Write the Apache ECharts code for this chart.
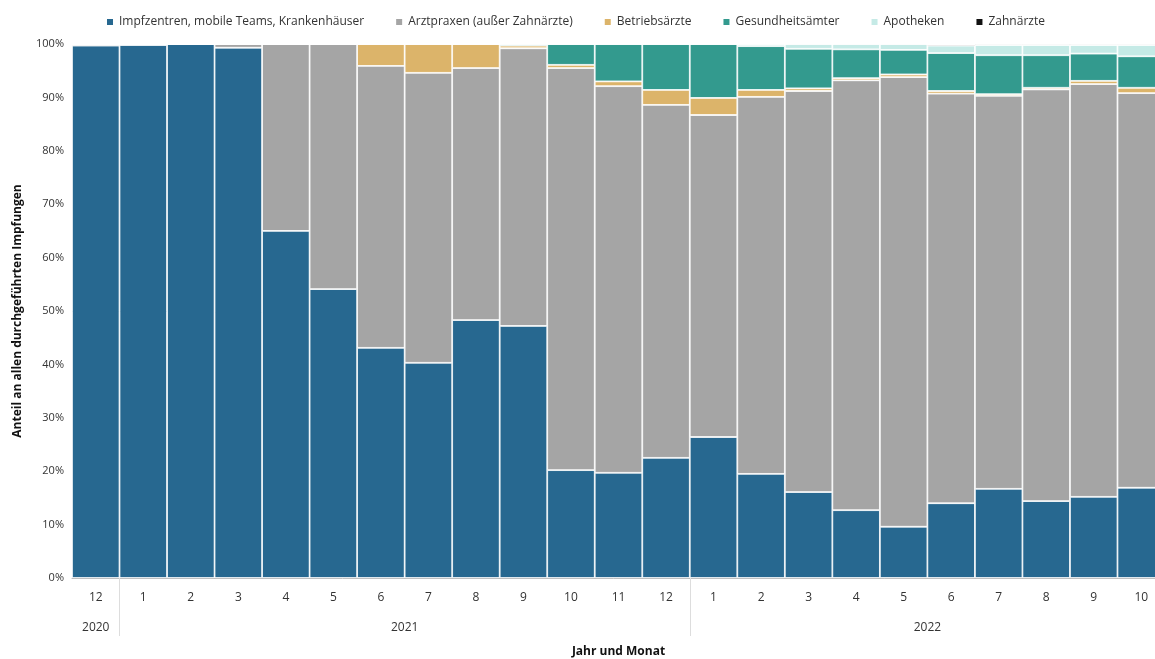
<!DOCTYPE html><html><head><meta charset="utf-8"><script src="https://cdn.jsdelivr.net/npm/echarts@6/dist/echarts.min.js"></script></head><body style="margin:0"><div id="c" style="width:1155px;height:659px"></div><script>
const months=['12','1','2','3','4','5','6','7','8','9','10','11','12','1','2','3','4','5','6','7','8','9','10'];
const impf=[99.7,99.8,100,99.3,65,54.1,43.1,40.3,48.3,47.2,20.2,19.7,22.5,26.4,19.5,16.1,12.7,9.6,14.0,16.7,14.4,15.2,16.9];
const arzt=[0.3,0.2,0,0.7,35,45.9,52.8,54.3,47.2,52,75.3,72.4,66.1,60.3,70.6,75.1,80.5,84.2,76.7,73.6,77.1,77.3,73.9];
const betrieb=[0,0,0,0,0,0,4.1,5.4,4.5,0.5,0.6,0.9,2.8,3.2,1.3,0.5,0.4,0.5,0.5,0.3,0.3,0.6,1.0];
const gesund=[0,0,0,0,0,0,0,0,0,0.3,3.9,7.0,8.6,10.1,8.2,7.4,5.4,4.6,7.1,7.3,6.1,5.1,5.9];
const apo=[0,0,0,0,0,0,0,0,0,0,0,0,0,0,0.4,0.9,1.0,1.1,1.4,1.9,1.9,1.6,2.1];
const zahn=[0,0,0,0,0,0,0,0,0,0,0,0,0,0,0,0,0,0,0.2,0.2,0.2,0.2,0.2];
const names=['Impfzentren, mobile Teams, Krankenhäuser','Arztpraxen (außer Zahnärzte)','Betriebsärzte','Gesundheitsämter','Apotheken','Zahnärzte'];
const colors=['#276890','#a5a5a5','#dcb46a','#339a8e','#c5eae6','#111111'];
const data=[impf,arzt,betrieb,gesund,apo,zahn];
const f='"Open Sans", sans-serif';
const ch=echarts.init(document.getElementById('c'));
ch.setOption({
 textStyle:{fontFamily:f},
 legend:{top:11,left:100,itemWidth:8,itemHeight:8,itemGap:30,icon:'rect',textStyle:{fontSize:12,color:'#333',fontFamily:f}},
 grid:{left:72,right:-10,top:44,bottom:81,outerBoundsMode:'none',containLabel:false},
 xAxis:[{type:'category',data:months,axisLine:{lineStyle:{color:'#bbb'}},axisTick:{length:32,lineStyle:{color:'#ddd'}},axisLabel:{color:'#333',fontSize:12,margin:14}},
 {type:'value',position:'bottom',min:0,max:23,gridIndex:0,offset:0,splitLine:{show:false},axisLine:{show:false},
  axisTick:{customValues:[1,13],length:58,lineStyle:{color:'#ddd'}},
  axisLabel:{customValues:[0.5,7,18],margin:44,color:'#333',fontSize:12,formatter:v=>v==0.5?'2020':v==7?'2021':'2022'},
  name:'Jahr und Monat',nameLocation:'middle',nameGap:68,nameTextStyle:{fontWeight:'bold',fontSize:12,color:'#111'}}],
 yAxis:{type:'value',min:0,max:100,interval:10,splitLine:{show:false},axisLine:{show:false},axisTick:{show:false},
  axisLabel:{formatter:'{value}%',color:'#333',fontSize:11},name:'Anteil an allen durchgeführten Impfungen',nameLocation:'middle',nameGap:48,nameTextStyle:{fontWeight:'bold',fontSize:12,color:'#111'}},
 series:data.map((d,i)=>({name:names[i],type:'bar',stack:'a',data:d,barCategoryGap:0,itemStyle:{color:colors[i],borderColor:'#fff',borderWidth:0.8}}))
});
</script></body></html>
